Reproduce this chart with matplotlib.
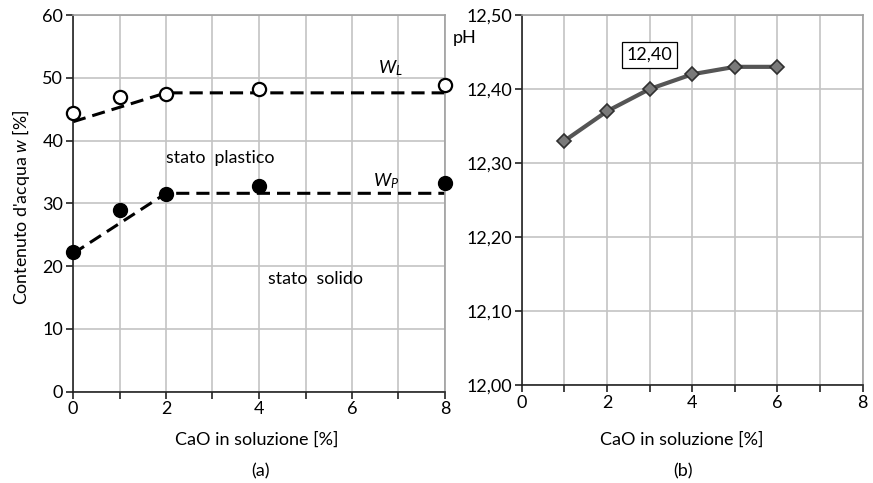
import matplotlib
matplotlib.use("Agg")
import matplotlib.pyplot as plt

plt.rcParams['font.family'] = ['Lato', 'DejaVu Sans']
plt.rcParams['mathtext.fontset'] = 'custom'
plt.rcParams['mathtext.rm'] = 'Lato'
plt.rcParams['mathtext.it'] = 'Lato:italic'

# ---- data (a) ----
cao_a = [0, 1, 2, 4, 8]
w_L = [44.4, 46.9, 47.4, 48.2, 48.9]
w_P = [22.2, 29.0, 31.5, 32.8, 33.3]
wl_fit_x = [0, 2, 8]
wl_fit_y = [43.0, 47.6, 47.6]
wp_fit_x = [0, 2, 8]
wp_fit_y = [22.0, 31.6, 31.6]
yticks_a = [0, 10, 20, 30, 40, 50, 60]
xticks_lab = [0, 2, 4, 6, 8]

# ---- data (b) ----
cao_b = [1, 2, 3, 4, 5, 6]
ph = [12.33, 12.37, 12.40, 12.42, 12.43, 12.43]
yticks_b = [12.00, 12.10, 12.20, 12.30, 12.40, 12.50]
yticklabels_b = ["12,00", "12,10", "12,20", "12,30", "12,40", "12,50"]

W, H = 873, 483
fig = plt.figure(figsize=(W/100, H/100), dpi=100)
ax1 = fig.add_axes([73/W, 1-391.7/H, (445-73)/W, (391.7-15)/H])
ax2 = fig.add_axes([521.7/W, 1-385.3/H, (862.7-521.7)/W, (385.3-15)/H])

grid_c = '#c4c4c4'
fs = 13

def style(ax):
    ax.set_xlim(0, 8)
    ax.set_xticks(range(0, 9))
    ax.set_xticklabels([str(i) if i in xticks_lab else '' for i in range(0, 9)])
    ax.grid(True, color=grid_c, lw=1.2)
    ax.set_axisbelow(True)
    for s in ['top', 'right']:
        ax.spines[s].set_color('#a0a0a0')
        ax.spines[s].set_linewidth(1.2)
    for s in ['left', 'bottom']:
        ax.spines[s].set_color('#222222')
        ax.spines[s].set_linewidth(1.2)
    ax.tick_params(direction='out', length=5, width=1.2, color='#222222',
                   labelsize=fs, pad=2)

# (a)
style(ax1)
ax1.set_ylim(0, 60)
ax1.set_yticks(yticks_a)
ax1.plot(wl_fit_x, wl_fit_y, color='black', lw=2.2, dashes=(4.3, 2.3), zorder=2)
ax1.plot(wp_fit_x, wp_fit_y, color='black', lw=2.2, dashes=(4.3, 2.3), zorder=2)
ax1.plot(cao_a, w_L, 'o', ms=9.5, mfc='white', mec='black', mew=1.6, clip_on=False, zorder=3)
ax1.plot(cao_a, w_P, 'o', ms=10, mfc='black', mec='black', clip_on=False, zorder=3)
ax1.text(6.55, 51.5, r"$W_L$", fontsize=fs, ha='left', va='center')
ax1.text(6.45, 33.6, r"$W_P$", fontsize=fs, ha='left', va='center')
ax1.text(2.0, 37.3, "stato  plastico", fontsize=12.8, ha='left', va='center')
ax1.text(4.2, 18.0, "stato  solido", fontsize=12.8, ha='left', va='center')
fig.text(21/W, 1-207/H, r"Contenuto d'acqua $w$ [%]", fontsize=12.8,
         rotation=90, ha='center', va='center')

# (b)
style(ax2)
ax2.set_ylim(12.0, 12.5)
ax2.set_yticks(yticks_b)
ax2.set_yticklabels(yticklabels_b)
ax2.plot(cao_b, ph, color='#555555', lw=3, solid_capstyle='round', zorder=2)
ax2.plot(cao_b, ph, 'D', ms=7, mfc='#7a7a7a', mec='#303030', mew=1.2, zorder=3)
ax2.text(2.99, 12.446, "12,40", fontsize=fs, ha='center', va='center',
         bbox=dict(boxstyle='square,pad=0.25', fc='white', ec='black', lw=0.9))

fig.text(465/W, 1-38/H, "pH", fontsize=fs, ha='center', va='center')
fig.text(257/W, 1-440/H, "CaO in soluzione [%]", fontsize=fs, ha='center', va='center')
fig.text(682/W, 1-440/H, "CaO in soluzione [%]", fontsize=fs, ha='center', va='center')
fig.text(260/W, 1-471/H, "(a)", fontsize=fs, ha='center', va='center')
fig.text(683/W, 1-471/H, "(b)", fontsize=fs, ha='center', va='center')

fig.savefig("out.png", dpi=100)
